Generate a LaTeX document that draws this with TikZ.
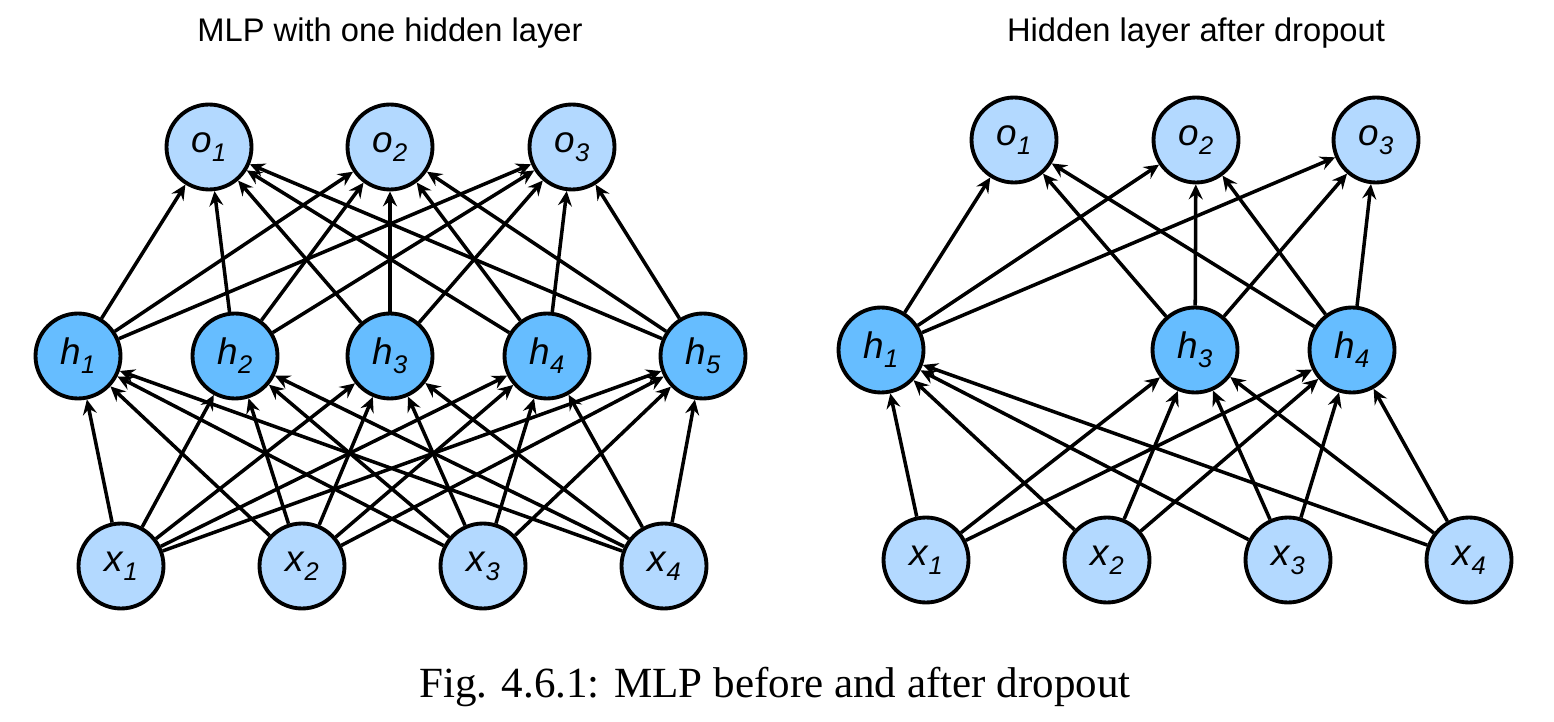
\documentclass[tikz,border=0pt]{standalone}
\usepackage{fontspec}
\setmainfont{Liberation Sans}
\newfontfamily\capfont{Liberation Serif}
\usetikzlibrary{arrows.meta}
\definecolor{lightunit}{RGB}{179,217,255}
\definecolor{hidunitc}{RGB}{102,189,255}
\newcommand{\nlab}[2]{\textit{#1}\raisebox{-0.25em}{\fontsize{14.5}{15}\selectfont\textit{#2}}}

\begin{document}
\begin{tikzpicture}[x=0.02cm, y=-0.02cm,
    unit/.style={circle, draw, line width=2.2pt, minimum size=1.70cm, inner sep=0pt, font=\fontsize{21}{21}\selectfont},
    iounit/.style={unit, fill=lightunit},
    hidunit/.style={unit, fill=hidunitc},
    conn/.style={line width=2pt, -{Stealth[length=8.5pt, width=8pt, inset=3pt]}},
    title/.style={font=\fontsize{18.6}{20}\selectfont, anchor=base}]
    \useasboundingbox (0,0) rectangle (1554,722);

    % Left: full MLP
    \node[title] (ltitle) at (390,42) {MLP with one hidden layer};
    \foreach \i/\px in {1/209, 2/390, 3/572}
        \node[iounit] (lo\i) at (\px,147) {\nlab{o}{\i}};
    \foreach \i/\px in {1/78, 2/235, 3/390, 4/547, 5/703}
        \node[hidunit] (lh\i) at (\px,356) {\nlab{h}{\i}};
    \foreach \i/\px in {1/121, 2/302, 3/483, 4/664}
        \node[iounit] (lx\i) at (\px,566) {\nlab{x}{\i}};
    \foreach \i in {1,...,4}
        \foreach \j in {1,...,5} \draw[conn] (lx\i) -- (lh\j);
    \foreach \j in {1,...,5}
        \foreach \k in {1,2,3} \draw[conn] (lh\j) -- (lo\k);

    % Right: after dropout (h2, h5 removed)
    \node[title] (rtitle) at (1196,42) {Hidden layer after dropout};
    \foreach \i/\px in {1/1014, 2/1196, 3/1376}
        \node[iounit] (ro\i) at (\px,140) {\nlab{o}{\i}};
    \foreach \i/\px in {1/881, 3/1195, 4/1352}
        \node[hidunit] (rh\i) at (\px,350) {\nlab{h}{\i}};
    \foreach \i/\px in {1/926, 2/1107, 3/1288, 4/1469}
        \node[iounit] (rx\i) at (\px,560) {\nlab{x}{\i}};
    \foreach \i in {1,...,4}
        \foreach \j in {1,3,4} \draw[conn] (rx\i) -- (rh\j);
    \foreach \j in {1,3,4}
        \foreach \k in {1,2,3} \draw[conn] (rh\j) -- (ro\k);

    \node[anchor=base, font=\capfont\fontsize{24.5}{26}\selectfont] (caption) at (775,697)
        {Fig. 4.6.1: MLP before and after dropout};
\end{tikzpicture}
\end{document}
